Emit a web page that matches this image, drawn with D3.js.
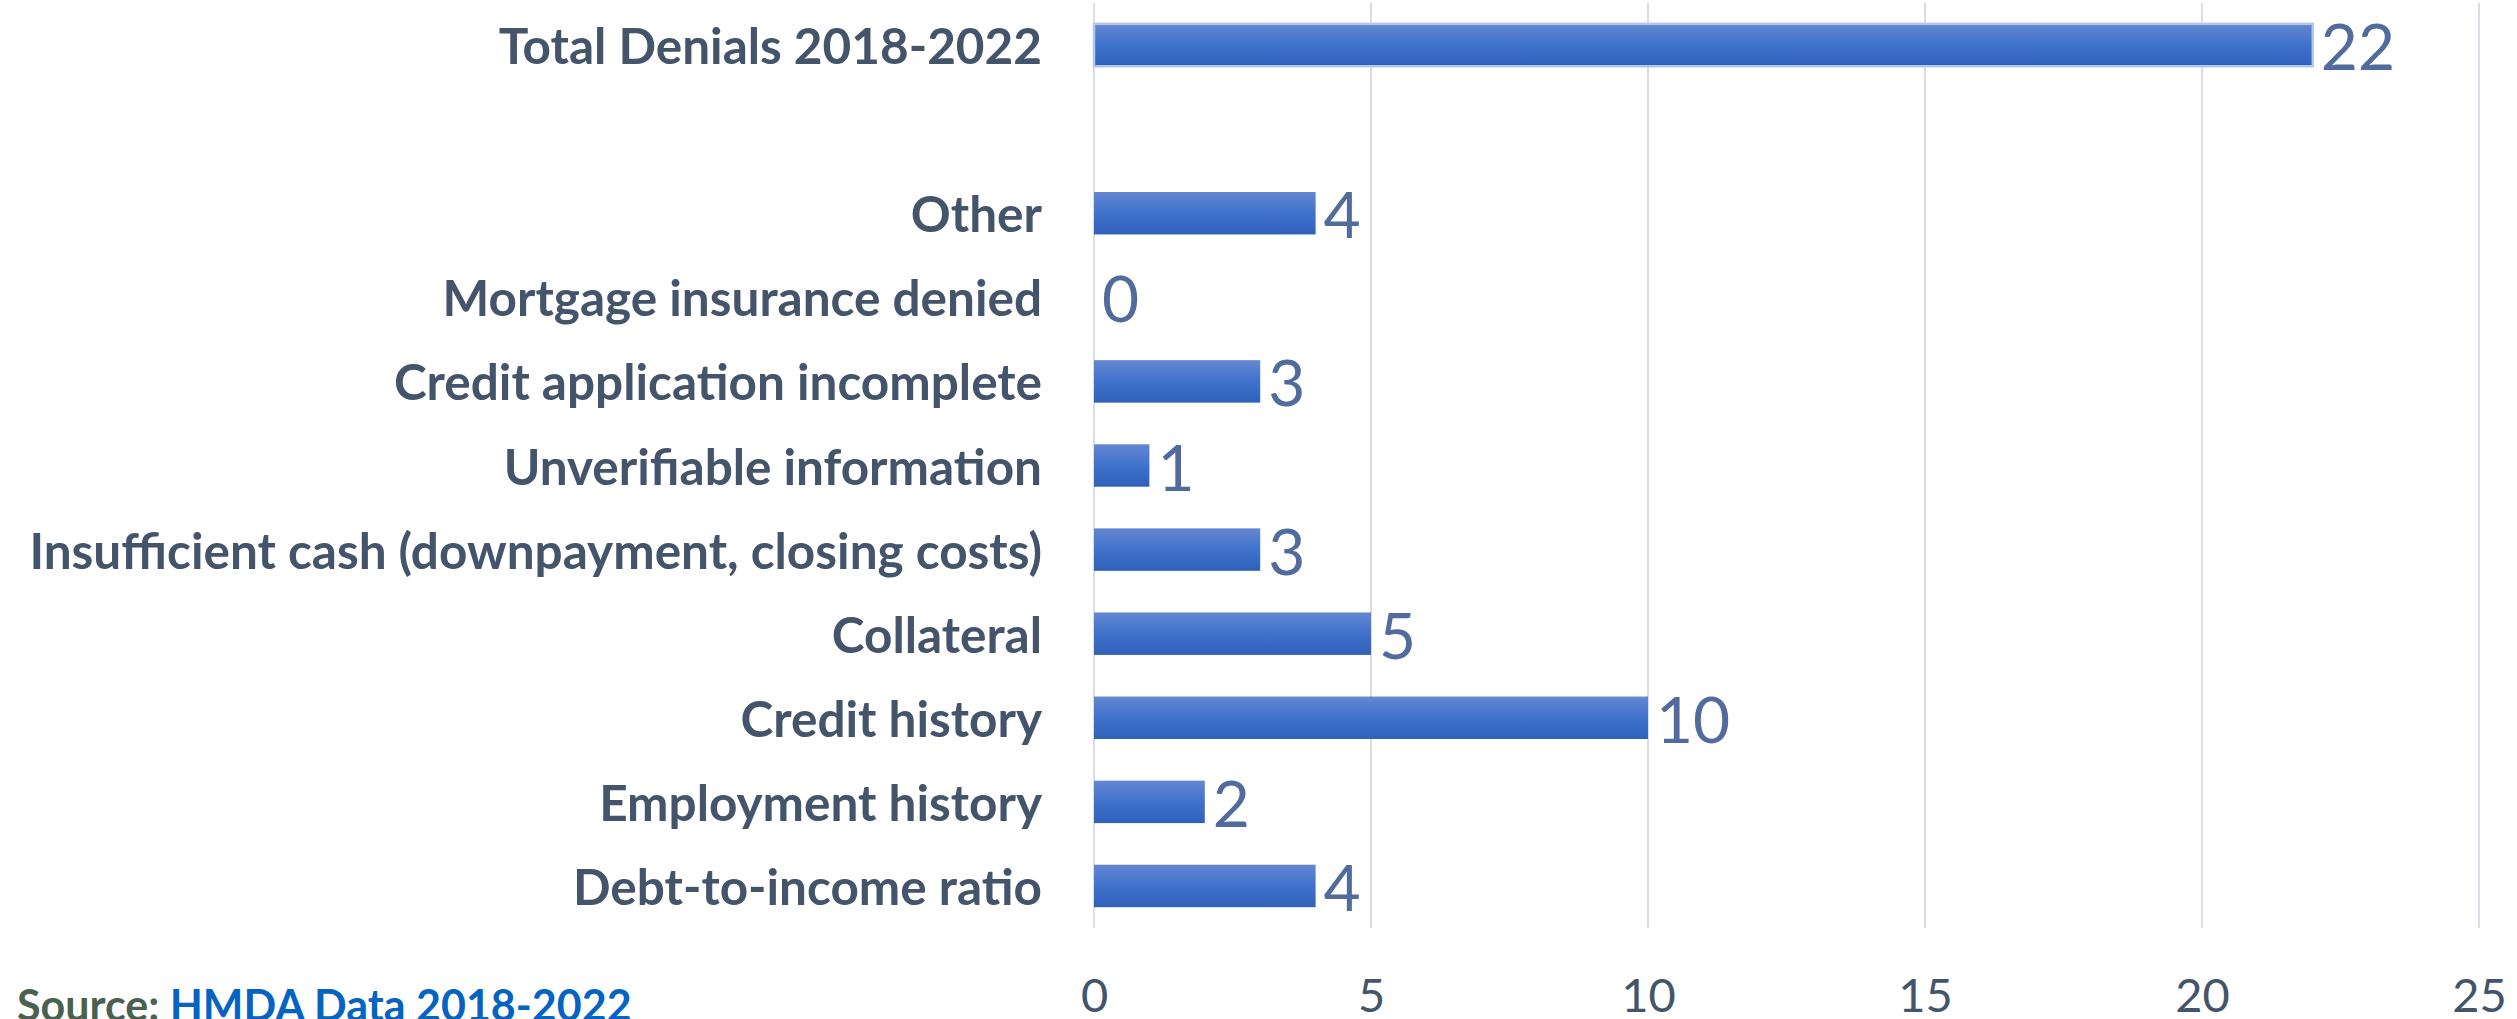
<!DOCTYPE html>
<html>
<head>
<meta charset="utf-8">
<script src="https://cdn.jsdelivr.net/npm/d3@7"></script>
<style>
  html, body { margin: 0; padding: 0; background: #ffffff; overflow: hidden; }
  svg { display: block; }
</style>
</head>
<body>
<svg id="chart" width="2517" height="1019"></svg>
<script>
// Denial reasons, listed top to bottom; the empty entry is a spacer row
const categories = [
  "Total Denials 2018-2022",
  "",
  "Other",
  "Mortgage insurance denied",
  "Credit application incomplete",
  "Unverifiable information",
  "Insufficient cash (downpayment, closing costs)",
  "Collateral",
  "Credit history",
  "Employment history",
  "Debt-to-income ratio"
];
const values = [22, null, 4, 0, 3, 1, 3, 5, 10, 2, 4];
const xTicks = [0, 5, 10, 15, 20, 25];
const sourceLabel = "Source:";
const sourceName = "HMDA Data 2018-2022";

const svg = d3.select("#chart");
const plot = { left: 1094, right: 2479, top: 3, bottom: 928 };

const x = d3.scaleLinear().domain([0, 25]).range([plot.left, plot.right]);
const y = d3.scaleBand()
  .domain(categories.map((c, i) => i))
  .range([plot.top, plot.bottom])
  .paddingInner(0.495)
  .paddingOuter(0.2475);

// bar gradient
const defs = svg.append("defs");
const grad = defs.append("linearGradient")
  .attr("id", "barFill").attr("x1", 0).attr("y1", 0).attr("x2", 0).attr("y2", 1);
grad.append("stop").attr("offset", "0%").attr("stop-color", "#6487d1");
grad.append("stop").attr("offset", "50%").attr("stop-color", "#3f72cc");
grad.append("stop").attr("offset", "100%").attr("stop-color", "#2f61bb");

// vertical gridlines
svg.append("g")
  .selectAll("line")
  .data(xTicks)
  .join("line")
  .attr("x1", d => x(d)).attr("x2", d => x(d))
  .attr("y1", plot.top).attr("y2", plot.bottom)
  .attr("stroke", "#d9dde4")
  .attr("stroke-width", 2);

const rows = categories.map((c, i) => ({ i, name: c, value: values[i] }));
const withValue = rows.filter(d => d.value !== null);

// bars
svg.append("g")
  .selectAll("rect")
  .data(withValue)
  .join("rect")
  .attr("x", x(0))
  .attr("y", d => y(d.i))
  .attr("width", d => x(d.value) - x(0))
  .attr("height", y.bandwidth())
  .attr("fill", "url(#barFill)")
  .attr("stroke", d => d.i === 0 ? "#b4c7e7" : "none")
  .attr("stroke-width", 2.5);

// category labels
svg.append("g")
  .selectAll("text")
  .data(rows.filter(d => d.name !== ""))
  .join("text")
  .attr("x", 1042)
  .attr("y", d => y(d.i) + y.bandwidth() / 2 + 19)
  .attr("text-anchor", "end")
  .attr("font-family", "Lato, 'Open Sans', sans-serif")
  .attr("font-weight", 700)
  .attr("font-size", 49.5)
  .attr("fill", "#44546a")
  .text(d => d.name);

// value labels
svg.append("g")
  .selectAll("text")
  .data(withValue)
  .join("text")
  .attr("x", d => x(d.value) + 8)
  .attr("y", d => y(d.i) + y.bandwidth() / 2 + 25)
  .attr("font-family", "Lato, 'Open Sans', sans-serif")
  .attr("font-size", 64)
  .attr("fill", "#506b9c")
  .text(d => d.value);

// x axis tick labels
const xAxis = d3.axisBottom(x).tickValues(xTicks).tickSize(0).tickPadding(0);
const ax = svg.append("g").attr("transform", `translate(0, 979)`).call(xAxis);
ax.select(".domain").remove();
ax.selectAll("text")
  .attr("dy", null)
  .attr("y", 33)
  .attr("font-family", "Lato, 'Open Sans', sans-serif")
  .attr("font-size", 47)
  .attr("fill", "#44546a");

// source note
const src = svg.append("text")
  .attr("x", 17)
  .attr("y", 1021)
  .attr("font-family", "Lato, 'Open Sans', sans-serif")
  .attr("font-weight", 700)
  .attr("font-size", 43);
src.append("tspan").attr("fill", "#4b6150").text(sourceLabel + " ");
src.append("tspan").attr("fill", "#0563c1").text(sourceName);
</script>
</body>
</html>
